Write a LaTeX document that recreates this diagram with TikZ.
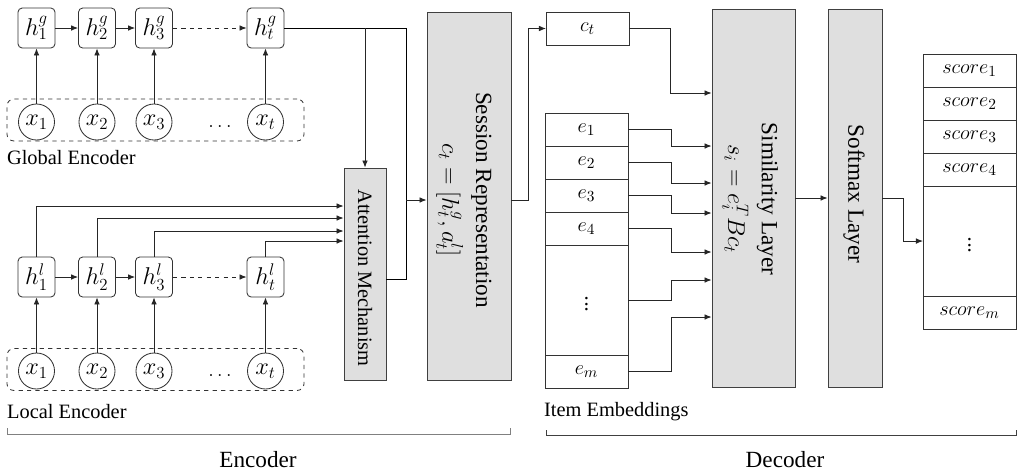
\documentclass[tikz,border=0pt]{standalone}
\usepackage{fontspec}
\setmainfont{Liberation Serif}
\usetikzlibrary{arrows.meta,positioning,calc}

\begin{document}
\begin{tikzpicture}[x=0.025cm, y=-0.025cm,
    >={Latex[length=5pt,width=4pt]},
    font=\fontsize{14.5}{17}\selectfont,
    line width=0.6pt,
    hbox/.style={draw=black!80, rounded corners=3pt, minimum width=0.925cm, minimum height=1cm, inner sep=0pt, font=\fontsize{17}{19}\selectfont},
    xnode/.style={draw=black!80, circle, minimum size=0.9cm, inner sep=0pt, font=\fontsize{17}{19}\selectfont},
    seqbox/.style={draw=black!80, dashed, rounded corners=5pt, minimum width=7.425cm, minimum height=1.05cm},
    layerbox/.style={draw=black!75, fill=gray!25, inner sep=0pt},
    layertext/.style={rotate=-90, align=center, font=\fontsize{16.5}{24}\selectfont},
    cell/.style={draw=black!80, minimum width=2.075cm, minimum height=0.825cm, inner sep=0pt, outer sep=0pt, font=\fontsize{15}{17}\selectfont},
    conn/.style={->, black!85},
    brace/.style={black!50},
]
    \useasboundingbox (0,0) rectangle (1017,475);

    % Global encoder
    \node[seqbox] (gseq) at (155.5,120) {};
    \node[xnode] (xg1) at (36.5,122) {$x_1$};
    \node[xnode] (xg2) at (97,122) {$x_2$};
    \node[xnode] (xg3) at (154,122) {$x_3$};
    \node[xnode] (xgt) at (265.5,122) {$x_t$};
    \node (xgdots) at (220,127) {$\dots$};
    \node[hbox] (hg1) at (36.5,28) {$h_1^g$};
    \node[hbox] (hg2) at (97,28) {$h_2^g$};
    \node[hbox] (hg3) at (154,28) {$h_3^g$};
    \node[hbox] (hgt) at (265.5,28) {$h_t^g$};
    \node[anchor=west] (glabel) at (2,158) {Global Encoder};

    % Local encoder
    \node[seqbox] (lseq) at (155.5,369.5) {};
    \node[xnode] (xl1) at (36.5,371) {$x_1$};
    \node[xnode] (xl2) at (97,371) {$x_2$};
    \node[xnode] (xl3) at (154,371) {$x_3$};
    \node[xnode] (xlt) at (265.5,371) {$x_t$};
    \node (xldots) at (220,376) {$\dots$};
    \node[hbox] (hl1) at (36.5,277) {$h_1^l$};
    \node[hbox] (hl2) at (97,277) {$h_2^l$};
    \node[hbox] (hl3) at (154,277) {$h_3^l$};
    \node[hbox] (hlt) at (265.5,277) {$h_t^l$};
    \node[anchor=west] (llabel) at (2,412) {Local Encoder};

    \foreach \i in {1,2,3,t} {
        \draw[conn] (xg\i.north) -- (hg\i.south);
        \draw[conn] (xl\i.north) -- (hl\i.south);
    }
    \foreach \s in {g,l} {
        \draw[conn] (h\s1.east) -- (h\s2.west);
        \draw[conn] (h\s2.east) -- (h\s3.west);
        \draw[conn, dashed] (h\s3.east) -- (h\s t.west);
    }

    % Attention and session representation
    \node[layerbox, minimum width=1.05cm, minimum height=5.3cm] (att) at (365,274) {};
    \node[layertext, font=\fontsize{14.5}{17}\selectfont] (atttext) at (365,278) {Attention Mechanism};
    \node[layerbox, minimum width=2.1cm, minimum height=9.2cm] (sess) at (469,196) {};
    \node[layertext] (sesstext) at (464,200) {Session Representation\\ $c_t = [h_t^g, a_t^l]$};

    \coordinate (merge) at (406,200);
    \draw (hgt.east) -| (merge);
    \draw ($(att.east)+(0,5)$) -| (merge);
    \draw[conn] (merge) -- (sess.west |- merge);
    \draw[conn] (att.north |- hgt.east) -- (att.north);
    \foreach \i/\y in {1/206, 2/218, 3/231, t/241}
        \draw[conn] (hl\i.north) |- (att.west |- 0,\y);

    % Decoder
    \node[cell] (ct) at (587.5,28.5) {$c_t$};
    \node[cell] (e1) at (586.5,129.5) {$e_1$};
    \node[cell, below=0pt of e1] (e2) {$e_2$};
    \node[cell, below=0pt of e2] (e3) {$e_3$};
    \node[cell, below=0pt of e3] (e4) {$e_4$};
    \node[cell, below=0pt of e4, minimum height=2.75cm] (edots) {$\vdots$};
    \node[cell, below=0pt of edots] (em) {$e_m$};
    \node[anchor=west] (ilabel) at (539,412) {Item Embeddings};

    \node[layerbox, minimum width=2.075cm, minimum height=9.45cm] (sim) at (753.5,198) {};
    \node[layertext] (simtext) at (750,199) {Similarity Layer\\ $s_i = e_i^T B c_t$};
    \node[layerbox, minimum width=1.35cm, minimum height=9.45cm] (soft) at (855,198) {};
    \node[layertext] (softtext) at (854,194) {Softmax Layer};

    \node[cell, minimum width=2.325cm] (s1) at (969.5,70.5) {$score_1$};
    \node[cell, minimum width=2.325cm, below=0pt of s1] (s2) {$score_2$};
    \node[cell, minimum width=2.325cm, below=0pt of s2] (s3) {$score_3$};
    \node[cell, minimum width=2.325cm, below=0pt of s3] (s4) {$score_4$};
    \node[cell, minimum width=2.325cm, minimum height=2.75cm, below=0pt of s4] (sdots) {$\vdots$};
    \node[cell, minimum width=2.325cm, below=0pt of sdots] (sm) {$score_m$};

    \draw[conn] (sess.east |- merge) -- ++(17,0) |- (ct.west);
    \draw[conn] (ct.east) -- ++(41,0) |- (sim.west |- 0,93);
    \foreach \n/\y in {e1/146, e2/183, e3/213, e4/252, edots/280, em/317}
        \draw[conn] (\n.east) -- ++(43,0) |- (sim.west |- 0,\y);
    \draw[conn] (sim.east) -- (soft.west);
    \draw[conn] (soft.east) -- ++(21,0) |- (sdots.west);

    % Braces
    \draw[brace] (7,428) -- (7,434) -- (510,434) -- (510,428);
    \draw[brace, black!75] (546,430) -- (546,435) -- (1016,435) -- (1016,430);
    \node[font=\fontsize{16.5}{20}\selectfont] (enclabel) at (258,460) {Encoder};
    \node[font=\fontsize{16.5}{20}\selectfont] (declabel) at (785,460) {Decoder};
\end{tikzpicture}
\end{document}
